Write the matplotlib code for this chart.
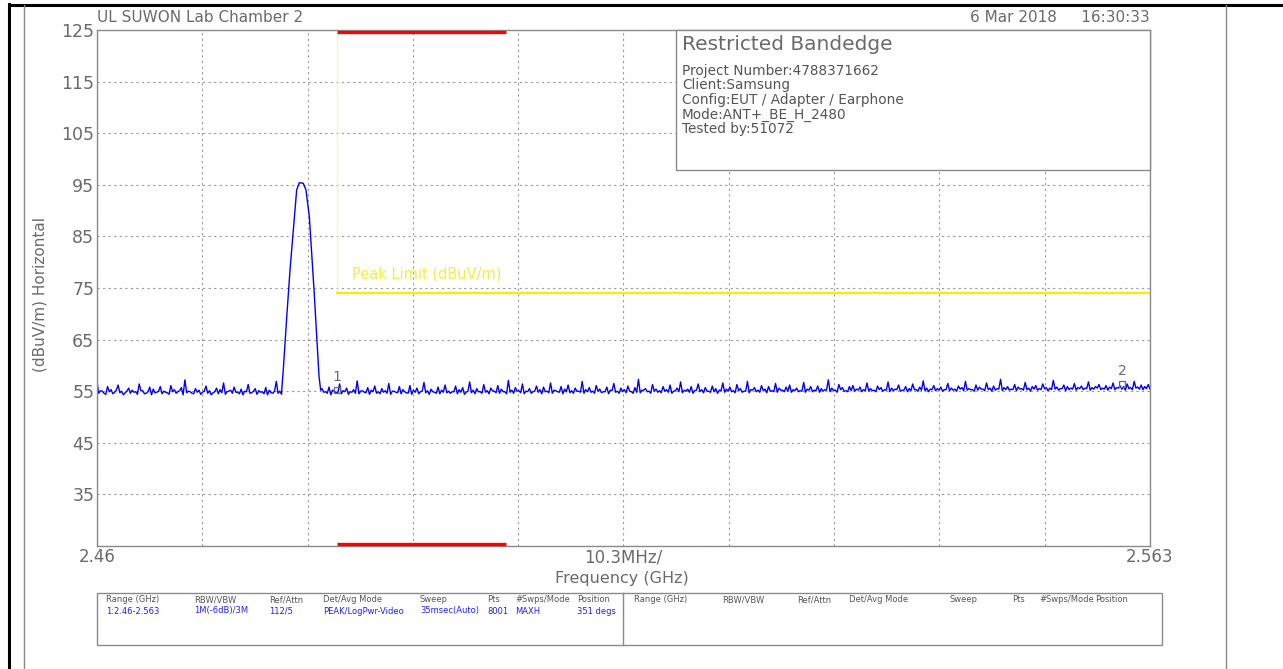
import numpy as np
import matplotlib.pyplot as plt
from matplotlib.patches import Rectangle
from matplotlib.lines import Line2D

# ---------------------------------------------------------------
# DATA
# ---------------------------------------------------------------
F_START = 2.46
F_STOP = 2.563

y_ticks = [25, 35, 45, 55, 65, 75, 85, 95, 105, 115, 125]
y_tick_labels = ['', '35', '45', '55', '65', '75', '85', '95', '105', '115', '125']
x_axis_texts = ['2.46', '10.3MHz/', '2.563']

# main carrier around 2.480 GHz
peak_freqs = [2.47807, 2.47822, 2.47856, 2.47888, 2.47920, 2.47953, 2.47979,
              2.48018, 2.48044, 2.48077, 2.48100, 2.48123, 2.48149, 2.48172, 2.48188]
peak_levels = [55.2, 59.1, 69.4, 78.5, 86.2, 94.0, 95.4,
               95.3, 94.0, 88.8, 81.7, 74.6, 65.6, 57.8, 55.2]

# noise floor, even sweep points (upper readings)
floor_levels_a = [
    56.8, 55.1, 54.6, 55.9, 55.3, 54.8, 56.2, 55.0, 54.7, 55.6, 55.2, 54.9, 56.4, 55.1, 54.6, 55.8, 55.4, 54.8, 55.9, 55.0,
    54.7, 56.1, 55.3, 54.9, 55.7, 57.2, 55.0, 54.6, 55.5, 55.2, 54.8, 56.0, 55.1, 54.7, 55.6, 55.3, 56.6, 54.9, 55.2, 55.8,
    54.8, 55.4, 55.0, 56.3, 54.7, 55.5, 55.1, 54.9, 55.7, 55.2, 54.6, 56.9, 55.0, 55.4, 54.8, 55.9, 55.2, 54.9, 55.6, 55.1,
    55.3, 54.8, 56.2, 55.0, 55.5, 54.9, 55.8, 55.2, 54.7, 56.4, 55.1, 55.6, 54.9, 55.3, 57.0, 55.0, 54.8, 55.7, 55.2, 56.0,
    54.9, 55.5, 55.1, 56.5, 55.0, 54.8, 55.9, 55.3, 54.7, 56.1, 55.2, 55.6, 54.9, 56.7, 55.1, 55.4, 54.8, 55.8, 55.2, 56.2,
    55.0, 54.9, 56.0, 55.3, 55.7, 54.8, 56.8, 55.2, 55.5, 54.9, 56.3, 55.1, 55.6, 55.0, 56.1, 55.4, 54.9, 57.1, 55.2, 55.7,
    55.1, 56.4, 55.0, 55.5, 54.9, 56.0, 55.3, 55.8, 55.0, 56.6, 55.2, 54.9, 55.9, 55.4, 56.2, 55.1, 55.6, 55.0, 56.9, 55.3,
    55.7, 55.0, 56.1, 55.4, 54.9, 55.8, 55.2, 56.5, 55.0, 55.6, 55.3, 56.0, 54.9, 55.7, 57.3, 55.2, 55.5, 55.0, 56.3, 55.4,
    55.1, 55.9, 55.3, 56.2, 55.0, 55.6, 56.8, 55.2, 55.4, 55.9, 55.1, 56.4, 55.3, 55.7, 55.0, 56.0, 55.5, 55.2, 56.6, 55.4,
    55.8, 55.1, 56.3, 55.5, 55.0, 56.9, 55.3, 55.7, 55.2, 56.1, 55.4, 55.9, 55.1, 56.5, 55.6, 55.2, 55.8, 56.2, 55.3, 55.6,
    55.1, 56.7, 55.4, 55.9, 55.2, 56.0, 55.5, 55.3, 57.2, 55.6, 55.2, 56.3, 55.7, 55.1, 55.9, 56.1, 55.4, 55.8, 55.3, 56.6,
    55.5, 55.2, 56.0, 55.7, 55.3, 56.8, 55.6, 55.4, 56.2, 55.2, 55.9, 55.5, 56.4, 55.3, 55.8, 57.0, 55.6, 55.4, 56.1, 55.5,
    55.8, 55.3, 56.5, 55.6, 55.4, 56.0, 55.7, 56.9, 55.5, 55.3, 56.2, 55.8, 55.4, 56.6, 55.6, 56.0, 55.5, 57.3, 55.7, 55.9,
    55.4, 56.3, 55.8, 55.5, 56.7, 55.6, 55.9, 56.1, 55.5, 56.4, 55.7, 55.6, 57.1, 55.8, 55.5, 56.2, 55.9, 55.6, 56.5, 55.7,
    56.0, 55.6, 56.8, 55.7, 55.9, 56.3, 55.6, 56.1, 55.8, 56.6, 55.7, 56.0, 55.9, 56.4, 55.7, 56.9, 55.8, 56.2, 55.9, 56.3,
]

# noise floor, odd sweep points (lower readings)
floor_levels_b = [
    54.6, 55.0, 54.4, 54.9, 54.5, 55.2, 54.7, 54.3, 55.0, 54.6, 54.8, 54.4, 55.1, 54.5, 54.9, 54.3, 54.7, 55.0, 54.5, 54.8,
    54.4, 54.9, 54.6, 55.1, 54.3, 54.7, 54.9, 54.5, 54.8, 54.4, 55.0, 54.6, 54.3, 54.9, 54.5, 54.7, 54.4, 55.0, 54.6, 54.8,
    54.5, 54.3, 54.9, 54.6, 55.0, 54.4, 54.8, 54.5, 54.3, 54.7, 55.0, 54.6, 54.4, 54.9, 54.5, 54.7, 54.3, 54.8, 54.6, 55.0,
    54.7, 54.4, 54.9, 54.5, 54.8, 54.6, 54.3, 55.0, 54.7, 54.5, 54.9, 54.4, 54.8, 54.6, 54.5, 55.1, 54.7, 54.4, 54.9, 54.6,
    54.5, 54.8, 54.6, 54.4, 55.0, 54.7, 54.5, 54.9, 54.6, 54.4, 54.8, 54.5, 55.0, 54.7, 54.4, 54.9, 54.6, 54.5, 54.8, 54.7,
    54.6, 54.9, 54.5, 54.8, 54.4, 55.0, 54.7, 54.5, 54.9, 54.6, 54.8, 54.5, 55.1, 54.7, 54.6, 54.9, 54.5, 54.8, 54.6, 55.0,
    54.7, 54.5, 54.9, 54.6, 55.0, 54.8, 54.5, 54.9, 54.7, 54.6, 55.1, 54.8, 54.5, 54.9, 54.7, 54.6, 55.0, 54.8, 54.6, 54.9,
    54.8, 54.6, 55.0, 54.7, 54.9, 54.5, 55.1, 54.8, 54.6, 54.9, 54.7, 55.0, 54.6, 54.8, 54.7, 55.2, 54.9, 54.6, 55.0, 54.8,
    54.7, 55.0, 54.8, 54.6, 55.1, 54.9, 54.7, 55.0, 54.8, 54.6, 55.2, 54.9, 54.7, 55.0, 54.8, 54.9, 54.6, 55.1, 54.8, 55.0,
    54.9, 54.7, 55.1, 54.8, 55.0, 54.7, 55.2, 54.9, 54.8, 55.1, 54.7, 55.0, 54.9, 54.8, 55.2, 54.9, 55.0, 54.8, 55.1, 54.9,
    55.0, 54.8, 55.2, 54.9, 55.1, 54.8, 55.0, 55.2, 54.9, 55.1, 54.8, 55.3, 55.0, 54.9, 55.1, 55.0, 55.2, 54.9, 55.1, 55.0,
    55.1, 54.9, 55.3, 55.0, 55.2, 54.9, 55.1, 55.3, 55.0, 55.2, 54.9, 55.1, 55.3, 55.0, 55.2, 55.1, 54.9, 55.3, 55.1, 55.2,
    55.0, 55.3, 55.1, 55.2, 55.0, 55.4, 55.1, 55.2, 55.3, 55.0, 55.2, 55.4, 55.1, 55.3, 55.0, 55.2, 55.4, 55.1, 55.3, 55.2,
    55.3, 55.1, 55.4, 55.2, 55.3, 55.0, 55.4, 55.2, 55.3, 55.5, 55.1, 55.3, 55.4, 55.2, 55.5, 55.1, 55.3, 55.4, 55.2, 55.5,
    55.3, 55.5, 55.2, 55.4, 55.6, 55.3, 55.4, 55.2, 55.5, 55.3, 55.6, 55.4, 55.2, 55.5, 55.3, 55.6, 55.4, 55.3, 55.5, 55.4,
]

restricted_band = [2.4835, 2.5]
limit_start = 2.4835
limit_level = 74

marker_freqs = [2.4835, 2.5603]
marker_levels = [55.2, 56.3]
marker_names = ['1', '2']

title_left = 'UL SUWON Lab Chamber 2'
title_right = '6 Mar 2018     16:30:33'
info_title = 'Restricted Bandedge'
info_lines = ['Project Number:4788371662', 'Client:Samsung',
              'Config:EUT / Adapter / Earphone', 'Mode:ANT+_BE_H_2480',
              'Tested by:51072']

table_headers = ['Range (GHz)', 'RBW/VBW', 'Ref/Attn', 'Det/Avg Mode',
                 'Sweep', 'Pts', '#Swps/Mode', 'Position']
table_values = ['1:2.46-2.563', '1M(-6dB)/3M', '112/5', 'PEAK/LogPwr-Video',
                '35msec(Auto)', '8001', 'MAXH', '351 degs']

# ---------------------------------------------------------------
# LAYOUT HELPERS (pixel -> figure fraction)
# ---------------------------------------------------------------
W, H = 1283, 669
GREY = '#6a6a6a'
EDGE = '#8a8a8a'


def fx(px):
    return px / W


def fy(py):
    return 1 - py / H


plt.rcParams['font.family'] = ['DejaVu Sans']

fig = plt.figure(figsize=(W / 100, H / 100), dpi=100)
ax = fig.add_axes([fx(97), fy(546), fx(1150) - fx(97), fy(30) - fy(546)])

# build the trace: interleave both floor readings, carrier replaces the floor
floor_l = np.empty(len(floor_levels_a) * 2)
floor_l[0::2] = floor_levels_a
floor_l[1::2] = floor_levels_b
floor_f = np.linspace(F_START, F_STOP, len(floor_l))
keep = (floor_f < peak_freqs[0]) | (floor_f > peak_freqs[-1])
trace_f = np.concatenate([floor_f[keep], peak_freqs])
trace_l = np.concatenate([floor_l[keep], peak_levels])
order = np.argsort(trace_f)
ax.plot(trace_f[order], trace_l[order], color='#0000ff', lw=1.0)

# limit line
ax.plot([limit_start, limit_start], [125, limit_level], color='#ffff60', lw=0.8)
ax.plot([limit_start, F_STOP], [limit_level, limit_level], color='#f0f000', lw=1.6)
ax.text(limit_start + 0.0014, limit_level + 2.2, 'Peak Limit (dBuV/m)',
        color='#f0f040', fontsize=10.5, va='bottom')

# restricted band bars (top and bottom)
for yv in [124.7, 25.3]:
    ax.plot(restricted_band, [yv, yv], color='#ff0000', lw=2.4,
            solid_capstyle='butt', clip_on=False, zorder=5)

# markers
for f, lv, name in zip(marker_freqs, marker_levels, marker_names):
    ax.plot(f, lv, marker='s', ms=5, mfc='none', mec=GREY, mew=0.9, zorder=6)
    ax.text(f, lv + 1.2, name, color=GREY, fontsize=10, ha='center', va='bottom')

ax.set_xlim(F_START, F_STOP)
ax.set_ylim(25, 125)
ax.set_xticks(np.linspace(F_START, F_STOP, 11))
ax.set_xticklabels([])
ax.set_yticks(y_ticks)
ax.set_yticklabels(y_tick_labels, fontsize=12.5, color=GREY)
ax.tick_params(length=0, pad=2)
ax.grid(True, color='#9a9a9a', ls=(0, (2, 3)), lw=0.8)
for sp in ax.spines.values():
    sp.set_color(EDGE)
    sp.set_linewidth(1.0)

# x axis texts
x_pos = [F_START, (F_START + F_STOP) / 2, F_STOP]
for xp, t in zip(x_pos, x_axis_texts):
    ax.text(xp, -0.004, t, transform=ax.get_xaxis_transform(), ha='center',
            va='top', fontsize=12, color=GREY)
fig.text(fx(622), fy(578), 'Frequency (GHz)', ha='center', va='center',
         fontsize=11.5, color=GREY)
fig.text(fx(40), fy(295), '(dBuV/m) Horizontal', rotation=90, ha='center',
         va='center', fontsize=11, color=GREY)

# titles
fig.text(fx(97), fy(18), title_left, ha='left', va='center', fontsize=11, color=GREY)
fig.text(fx(1150), fy(18), title_right, ha='right', va='center', fontsize=11, color=GREY)

# info box
fig.add_artist(Rectangle((fx(676), fy(170)), fx(1150) - fx(676), fy(30) - fy(170),
                         transform=fig.transFigure, fill=True, fc='white',
                         ec=EDGE, lw=1.0, zorder=3))
fig.text(fx(682), fy(45), info_title, ha='left', va='center', fontsize=14.5,
         color=GREY, zorder=4)
for i, line in enumerate(info_lines):
    fig.text(fx(682), fy(71 + i * 14.5), line, ha='left', va='center',
             fontsize=9.8, color='#555555', zorder=4)

# settings table at the bottom
fig.add_artist(Rectangle((fx(97), fy(645)), fx(1162) - fx(97), fy(593) - fy(645),
                         transform=fig.transFigure, fill=False, ec=EDGE, lw=1.0))
fig.add_artist(Line2D([fx(623), fx(623)], [fy(593), fy(645)], color=EDGE, lw=1.0))
left_cols = [106, 194, 269, 323, 420, 487, 515, 577]
right_cols = [634, 722, 797, 849, 949, 1012, 1039, 1095]
for i, hdr in enumerate(table_headers):
    fig.text(fx(left_cols[i]), fy(600), hdr, fontsize=6, color='#555555', va='center')
    fig.text(fx(right_cols[i]), fy(600), hdr, fontsize=6, color='#555555', va='center')
    fig.text(fx(left_cols[i]), fy(611), table_values[i], fontsize=6,
             color='#2020ff', va='center')

# outer page frame
fig.add_artist(Line2D([fx(9), fx(9)], [fy(4), fy(669)], color='black', lw=2.2))
fig.add_artist(Line2D([fx(9), fx(1283)], [fy(5), fy(5)], color='black', lw=2.2))
fig.add_artist(Line2D([fx(24), fx(24)], [fy(5), fy(669)], color=EDGE, lw=1.0))
fig.add_artist(Line2D([fx(1226), fx(1226)], [fy(5), fy(669)], color=EDGE, lw=1.0))

fig.savefig('out.png', dpi=100)
